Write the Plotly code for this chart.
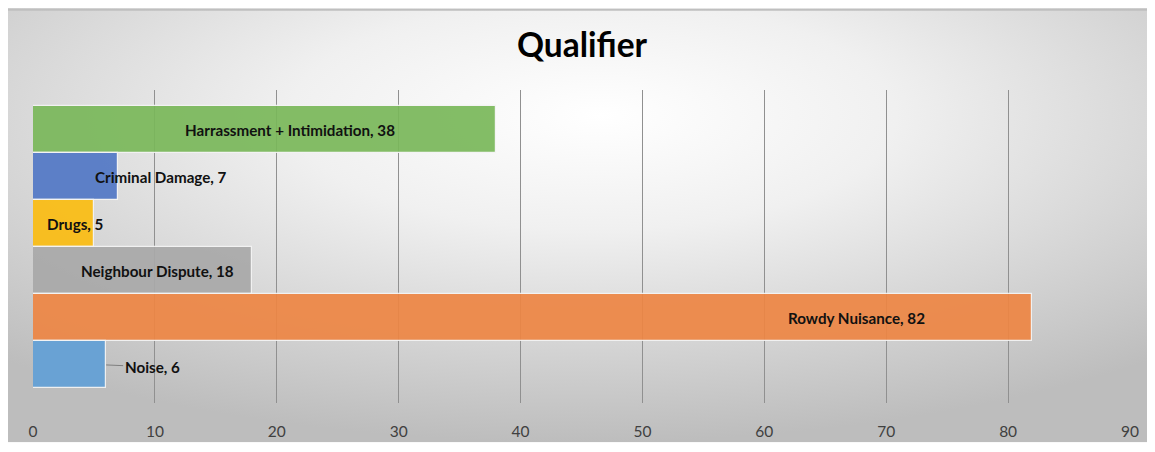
import plotly.graph_objects as go
import urllib.parse

categories = ["Harrassment + Intimidation", "Criminal Damage", "Drugs",
              "Neighbour Dispute", "Rowdy Nuisance", "Noise"]
values = [38, 7, 5, 18, 82, 6]
colors = ["#7ab85a", "#5278c6", "#fbbd12", "#a9a9a9", "#ee8644", "#62a0d6"]
label_x = [21.1, 10.5, 3.45, 10.2, 67.6, None]  # label centre positions (data units)
x_ticks = [0, 10, 20, 30, 40, 50, 60, 70, 80, 90]

# page body has an 8px margin: work in figure pixels = window pixels - 8
OFF = 8
W, H = 1155 - OFF, 452 - OFF
L, T = 33 - OFF, 90 - OFF
R = W - (1130 - OFF)
B = H - (408 - OFF)
pw, ph = W - L - R, H - T - B


def px_x(p):  # window pixel -> paper
    return (p - OFF - L) / pw


def px_y(p):
    return (H - B - (p - OFF)) / ph


svg = (
    "<svg xmlns='http://www.w3.org/2000/svg' width='1155' height='443' viewBox='0 0 1155 443' preserveAspectRatio='none'>"
    "<defs><radialGradient id='g' cx='50%' cy='25%' r='75%' fx='52%' fy='25%'>"
    "<stop offset='0' stop-color='#ffffff'/><stop offset='0.35' stop-color='#f0f0f0'/>"
    "<stop offset='1' stop-color='#bdbdbd'/></radialGradient></defs>"
    "<rect width='1155' height='443' fill='url(#g)'/></svg>"
)
svg_uri = "data:image/svg+xml;charset=utf-8," + urllib.parse.quote(svg)

fig = go.Figure()
fig.add_trace(go.Bar(
    y=categories, x=values, orientation="h",
    marker=dict(color=colors, opacity=0.92, line=dict(color="#f4f4f4", width=1.2)),
    hoverinfo="x+y", showlegend=False,
))

lab_font = dict(family="Lato", size=15.2, color="#111111")
annotations = []
for cat, val, lx in zip(categories, values, label_x):
    txt = f"<b>{cat}, {val}</b>"
    if lx is None:
        annotations.append(dict(x=val, y=cat, xref="x", yref="y", text=txt,
                                showarrow=True, arrowhead=0, arrowwidth=1,
                                arrowcolor="#7f7f7f", ax=46, ay=2, standoff=0,
                                font=lab_font))
    else:
        annotations.append(dict(x=lx, y=cat, xref="x", yref="y", text=txt,
                                showarrow=False, font=lab_font))

fig.update_layout(
    width=W, height=H,
    margin=dict(l=L, r=R, t=T, b=B),
    paper_bgcolor="#ffffff",
    plot_bgcolor="rgba(0,0,0,0)",
    bargap=0,
    title=dict(text="<b>Qualifier</b>", x=px_x(582), xanchor="center",
               y=1 - (45 - OFF) / H, yanchor="middle",
               font=dict(family="Lato", size=33.5, color="#000000")),
    xaxis=dict(range=[0, 90], tickvals=x_ticks, showgrid=True,
               gridcolor="#909090", gridwidth=1, zeroline=False,
               showline=False, ticks="outside", ticklen=14,
               tickcolor="rgba(0,0,0,0)",
               tickfont=dict(family="Lato", size=15.5, color="#404040")),
    yaxis=dict(categoryorder="array", categoryarray=categories,
               range=[5.81, -0.85], showticklabels=False, showgrid=False,
               zeroline=False, showline=False),
    annotations=annotations,
    images=[dict(source=svg_uri, xref="paper", yref="paper",
                 x=px_x(0), y=px_y(5), sizex=1155 / pw, sizey=(448 - 5) / ph,
                 xanchor="left", yanchor="top", sizing="stretch", layer="below")],
    shapes=[
        dict(type="line", xref="paper", yref="paper", x0=px_x(0), x1=px_x(1160),
             y0=px_y(8.5), y1=px_y(8.5), line=dict(color="#bfbfbf", width=2)),
    ],
)

fig.write_html("out.html")
